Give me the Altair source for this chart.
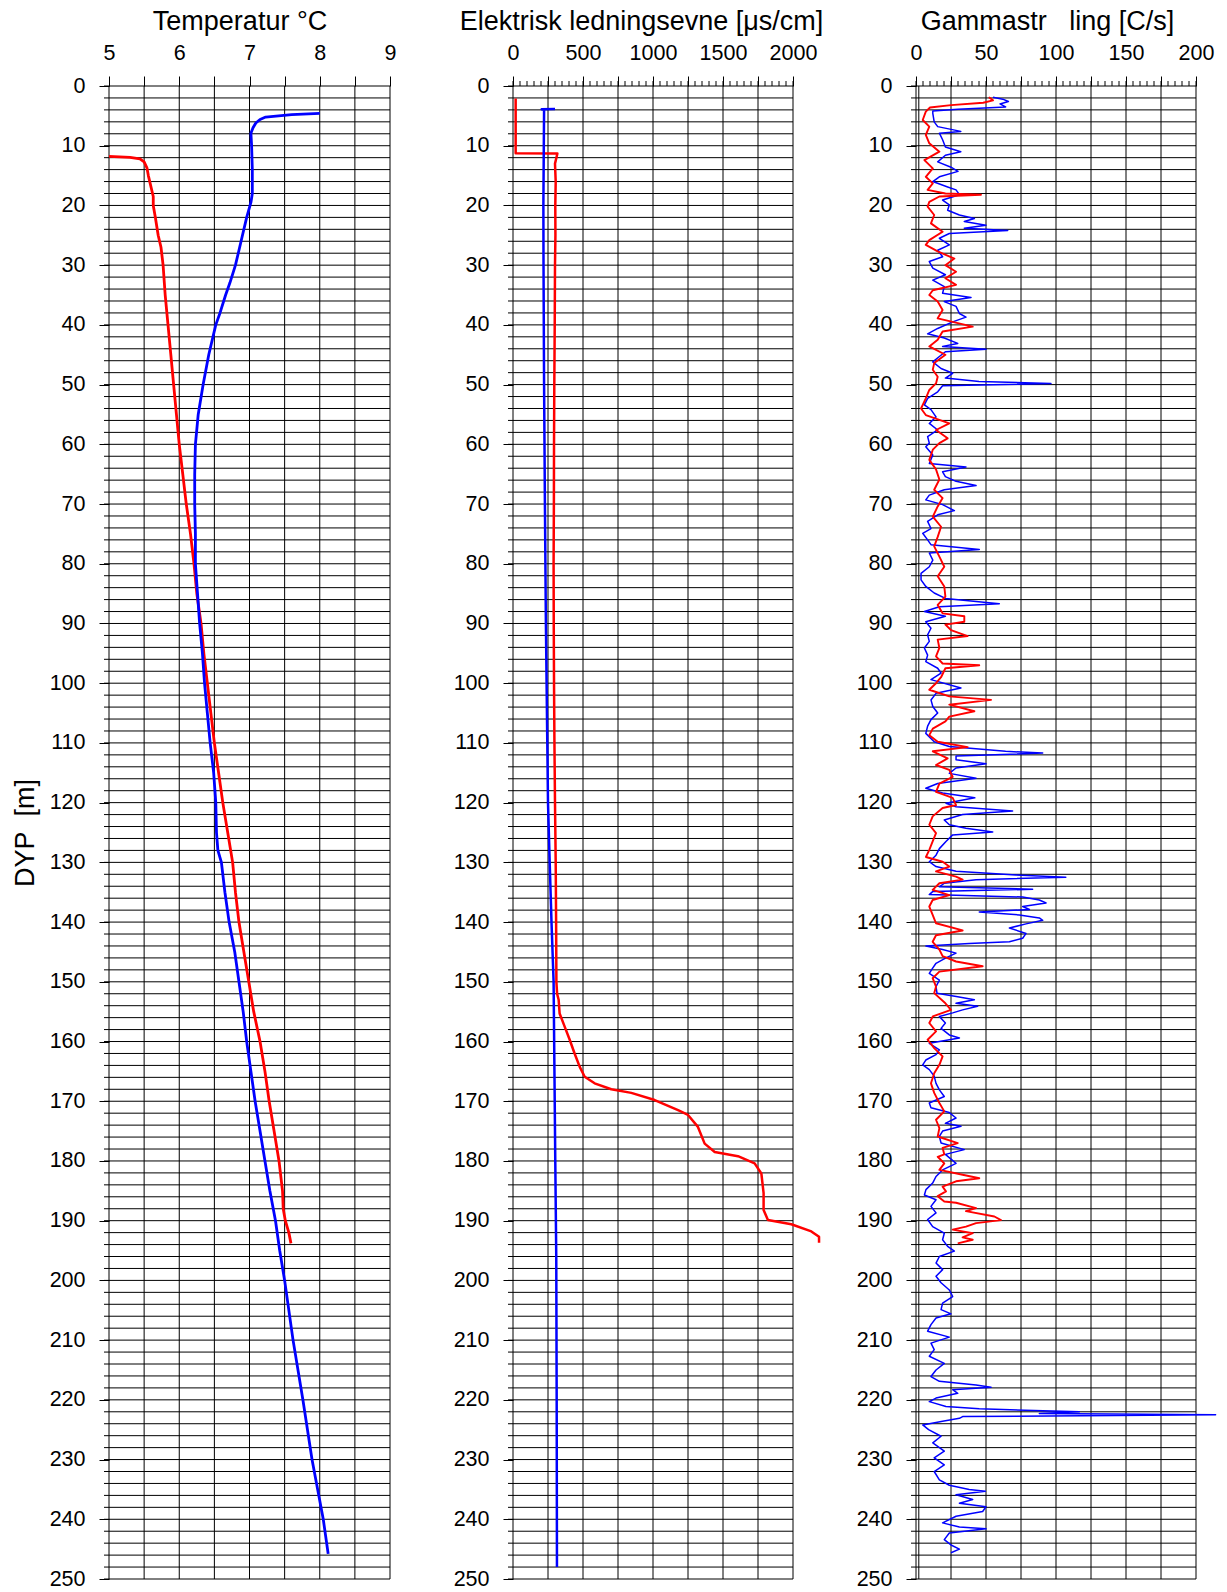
import altair as alt
import pandas as pd

FONT = "Liberation Sans"
H = 1493

# ---------------- Temperatur (°C) ----------------
temp_red_depth = [11.8, 11.95, 12.2, 12.7, 13.7, 15, 18.5, 20, 22, 25, 27, 30, 35, 40, 45, 50,
                  55, 60, 65, 70, 75, 80, 85, 90, 95, 100, 105, 110, 115, 120, 125, 130, 135,
                  140, 145, 150, 155, 160, 165, 170, 175, 180, 185, 188, 190, 192, 193.8]
temp_red_val = [5.0, 5.3, 5.44, 5.5, 5.54, 5.56, 5.63, 5.63, 5.66, 5.7, 5.74, 5.77, 5.8, 5.84,
                5.88, 5.92, 5.96, 6.0, 6.05, 6.1, 6.16, 6.21, 6.25, 6.31, 6.35, 6.4, 6.45, 6.5,
                6.56, 6.62, 6.69, 6.76, 6.8, 6.85, 6.92, 6.99, 7.06, 7.15, 7.22, 7.28, 7.35,
                7.42, 7.47, 7.48, 7.51, 7.56, 7.59]

temp_blue_depth = [4.6, 4.8, 5.2, 5.6, 6.2, 7.0, 7.9, 10, 14, 18, 19.5, 22, 25, 28, 30, 33, 35,
                   38, 40, 45, 50, 55, 60, 65, 70, 75, 80, 85, 90, 95, 100, 105, 110, 115, 120,
                   125, 128, 130, 135, 140, 145, 150, 155, 160, 165, 170, 175, 180, 185, 190,
                   195, 200, 210, 220, 230, 240, 245.8]
temp_blue_val = [8.0, 7.6, 7.23, 7.15, 7.09, 7.05, 7.02, 7.03, 7.04, 7.04, 7.02, 6.96, 6.9,
                 6.84, 6.8, 6.72, 6.66, 6.58, 6.52, 6.42, 6.34, 6.27, 6.23, 6.22, 6.22, 6.23,
                 6.23, 6.26, 6.29, 6.33, 6.36, 6.4, 6.44, 6.49, 6.52, 6.53, 6.55, 6.6, 6.65,
                 6.71, 6.79, 6.85, 6.91, 6.96, 7.02, 7.08, 7.15, 7.22, 7.29, 7.37, 7.43, 7.5,
                 7.62, 7.76, 7.89, 8.05, 8.12]

# ---------------- Elektrisk ledningsevne (µs/cm) ----------------
cond_red_depth = [2.1, 11.25, 11.3, 12, 13, 16, 20, 25, 30, 40, 50, 60, 70, 80, 90, 100, 110,
                  120, 130, 140, 150, 152, 153, 155.3, 157.5, 159.7, 162, 164.2, 165.9, 167,
                  168, 168.6, 169.8, 171.5, 172.3, 174.3, 177.1, 178.5, 179.2, 180.4, 182.1,
                  185.4, 188.2, 189.9, 190.6, 191.8, 192.7, 193.7]
cond_red_val = [19, 19, 317, 310, 300, 305, 302, 303, 300, 298, 295, 293, 292, 290, 291, 293,
                296, 300, 305, 308, 310, 315, 326, 333, 369, 405, 440, 476, 512, 583, 702,
                845, 1012, 1179, 1250, 1321, 1369, 1441, 1607, 1726, 1774, 1790, 1790, 1821,
                1988, 2131, 2186, 2186]

cond_blue_depth = [3.85, 3.9, 4.0, 10, 20, 30, 50, 70, 90, 100, 110, 120, 130, 140, 150, 160,
                   170, 180, 196, 220, 248]
cond_blue_val = [300, 205, 222, 220, 217, 218, 222, 228, 235, 240, 245, 250, 262, 275, 290,
                 294, 298, 302, 309, 312, 314]

# ---------------- Gammastråling (C/s) ----------------
gamma_blue = [
    (1.9, 55), (2.2, 62), (2.6, 66), (3.0, 60), (3.5, 64), (3.9, 30), (4.2, 12), (4.6, 12),
    (6.0, 13), (6.8, 15.5), (7.6, 32), (7.9, 16.7), (9.0, 19), (10.2, 21), (11.0, 32),
    (11.6, 21), (12.7, 15.5), (13.6, 25), (14.3, 30), (15.2, 16.7), (16.0, 12), (16.9, 22.6),
    (17.4, 28.6), (18.2, 31), (19.1, 19), (19.9, 23.8), (20.8, 22.6), (21.6, 31), (22.2, 41.7),
    (22.7, 34.5), (23.3, 50), (23.8, 34.5), (24.2, 65.5), (24.7, 23.8), (25.5, 16.7),
    (26.6, 23.8), (27.5, 15.5), (28.6, 19), (29.4, 9.5), (30.5, 12), (31.6, 21), (32.5, 12),
    (33.6, 20.2), (34.7, 19), (35.4, 39.3), (36.1, 20.2), (36.9, 28.6), (38.1, 31),
    (38.7, 35.7), (39.5, 26.2), (40.6, 15.5), (41.5, 8.3), (42.2, 20.2), (43.1, 29.8),
    (43.6, 19), (44.1, 50), (44.5, 21), (45.3, 16.7), (46.2, 12), (47.3, 17.9), (48.1, 26.2),
    (48.9, 21), (49.5, 45), (49.8, 96.4), (50.2, 19), (51.2, 15.5), (52.3, 8.3), (53.4, 6),
    (54.2, 10.7), (55.4, 14.3), (56.5, 9.5), (57.6, 15.5), (58.7, 8.3), (59.8, 9.5),
    (60.4, 7), (61.8, 12), (63.2, 9.5), (63.8, 35.7), (64.6, 19), (65.4, 21), (66.2, 28.6),
    (66.9, 42.9), (67.6, 20.2), (68.5, 9.5), (69.3, 7), (70.1, 19), (71.1, 27.4), (71.8, 15.5),
    (72.9, 8.3), (74.1, 10.7), (74.9, 4.8), (76.0, 8.3), (76.8, 10.7), (77.6, 45.2),
    (78.2, 9.5), (79.4, 12), (80.5, 9.5), (81.6, 3.6), (82.7, 3.6), (83.8, 7), (84.9, 13),
    (85.8, 21), (86.3, 42.9), (86.7, 59.5), (87.2, 16.7), (88.0, 6), (88.8, 21), (89.7, 7),
    (90.8, 10.7), (91.9, 8.3), (93.0, 9.5), (94.1, 6), (95.3, 8.3), (96.4, 7), (97.5, 15.5),
    (98.3, 17.9), (99.4, 10.7), (100.8, 32.1), (101.7, 14.3), (102.8, 10.7), (103.9, 12),
    (105.0, 15.5), (106.1, 10.7), (107.2, 8.3), (108.4, 7), (109.8, 13), (110.6, 23.8),
    (111.4, 64), (111.7, 90.5), (112.2, 28.6), (112.8, 28.6), (113.5, 50), (114.2, 28.6),
    (115.1, 23.8), (115.9, 42.9), (116.8, 15.5), (117.6, 7), (118.4, 19), (119.2, 42),
    (120.1, 21.4), (120.7, 28.6), (121.4, 69), (122.0, 33.3), (122.9, 20.2), (123.7, 23.8),
    (124.3, 35.7), (124.9, 54.8), (125.4, 26.2), (126.5, 21.4), (127.7, 16.7), (128.8, 14.3),
    (129.9, 9.5), (130.7, 14.3), (131.5, 28.6), (132.1, 71.4), (132.5, 107), (132.9, 42.9),
    (133.5, 20.2), (134.1, 16.7), (134.5, 83.3), (134.9, 11.9), (135.4, 9.5), (135.8, 76.2),
    (136.3, 88.1), (136.8, 92.9), (137.4, 76.2), (137.9, 81), (138.3, 45.2), (138.8, 73.8),
    (139.3, 88.1), (139.7, 90.5), (140.3, 78.6), (141.0, 66.7), (141.9, 78.6), (142.7, 76.2),
    (143.3, 66.7), (143.6, 38), (144.0, 7.1), (144.6, 19), (145.2, 28.6), (146.0, 21.4),
    (146.9, 14.3), (147.7, 11.9), (148.6, 9.5), (149.7, 16.7), (150.8, 14.3), (151.9, 15),
    (152.5, 29.8), (153.0, 41.7), (153.6, 28.6), (154.1, 44), (154.7, 33.3), (155.2, 26.2),
    (155.8, 16.7), (156.9, 21), (157.8, 17.9), (158.9, 23.8), (159.4, 31), (160.3, 9.5),
    (161.4, 16.7), (162.2, 14.3), (163.1, 7), (163.9, 4.8), (164.7, 9.5), (165.8, 13),
    (167.0, 14.3), (168.1, 16.7), (169.2, 20.2), (170.3, 9.5), (171.1, 10.7), (171.9, 23.8),
    (172.8, 28.6), (173.7, 21), (174.2, 32.1), (175.0, 19), (175.9, 16.7), (177.0, 17.9),
    (178.1, 34.5), (178.9, 21), (180.4, 28.6), (181.5, 19), (182.6, 14.3), (183.7, 11.9),
    (184.8, 7.1), (185.7, 6), (186.5, 14.3), (187.6, 10.7), (188.7, 14.3), (189.8, 8.3),
    (191.0, 11.9), (192.1, 20.2), (193.2, 19), (194.3, 22.6), (195.1, 27.4), (196.0, 16.7),
    (197.1, 14.3), (198.2, 19), (199.3, 14.3), (200.4, 17.9), (201.6, 23.8), (202.7, 26.2),
    (203.8, 19), (204.9, 17.9), (205.6, 25), (206.3, 14.3), (207.4, 10.7), (208.5, 8.3),
    (209.5, 23.8), (210.5, 10.7), (211.6, 13), (212.7, 9.5), (213.9, 20.2), (215.0, 14.3),
    (216.1, 10.7), (216.9, 16.7), (217.5, 42.9), (217.9, 53.6), (218.3, 26.2), (218.9, 29.8),
    (219.7, 14.3), (220.3, 9.5), (221.1, 21.4), (221.5, 45.2), (222.0, 116.7), (222.3, 88.1),
    (222.5, 214), (222.8, 33.3), (223.1, 31), (223.6, 19), (224.2, 4.8), (225.0, 9),
    (226.1, 17.9), (227.2, 12), (228.6, 20.2), (229.7, 13), (230.9, 20.2), (232.0, 13),
    (233.4, 16.7), (234.3, 23.8), (235.0, 38), (235.3, 49.5), (235.9, 28.6), (236.7, 40.5),
    (237.3, 31), (237.9, 50), (238.7, 47.6), (239.5, 28.6), (240.6, 19), (241.3, 31),
    (241.6, 50), (242.3, 23.8), (243.4, 20.2), (244.3, 25), (245.0, 31), (245.6, 25),
]
gamma_red = [
    (1.9, 52), (2.4, 55), (2.8, 48), (3.2, 25), (3.6, 10), (4.3, 7), (5.7, 4.8), (6.8, 9.5),
    (8.2, 7), (9.6, 9.5), (11.0, 16.7), (12.4, 6), (13.8, 12), (15.2, 7), (16.3, 12),
    (17.4, 8.3), (18.0, 21), (18.2, 46.4), (18.5, 16.7), (19.4, 9.5), (20.2, 8.3), (21.6, 13),
    (23.0, 10.7), (24.4, 19), (25.8, 9.5), (26.6, 7), (27.7, 15.5), (28.9, 27.4), (30.0, 21),
    (31.1, 28.6), (32.2, 21), (33.3, 28.6), (34.2, 12), (35.0, 9.5), (36.1, 15.5), (37.5, 19),
    (38.9, 15.5), (40.3, 40.5), (41.1, 19), (42.5, 15.5), (43.6, 9.5), (45.0, 21), (46.4, 13),
    (47.5, 12), (48.7, 15.5), (49.8, 14.3), (50.9, 9.5), (52.3, 7), (54.0, 3.6), (55.1, 7),
    (56.5, 23.8), (57.6, 14.3), (59.0, 22.6), (59.8, 16.7), (60.9, 12), (62.6, 9.5),
    (64.2, 14.3), (65.9, 16.7), (67.6, 13), (69.0, 19), (70.4, 15.5), (72.1, 12), (73.8, 17.9),
    (75.5, 15.5), (77.1, 13), (78.8, 16.7), (80.5, 20.2), (82.1, 15.5), (83.8, 20.2),
    (85.5, 21), (86.9, 15.5), (88.3, 19), (88.8, 34.5), (89.7, 34.5), (90.2, 21), (91.1, 25),
    (92.1, 36.9), (92.7, 15.5), (94.1, 16.7), (95.5, 14.3), (96.7, 19), (97.0, 45.2),
    (97.5, 21), (99.0, 17.9), (100.0, 14.3), (101.1, 9.5), (102.2, 23.8), (102.8, 53.6),
    (103.6, 23.8), (104.7, 41.7), (105.6, 23.8), (106.4, 21), (107.6, 12), (108.7, 9.5),
    (109.8, 15.5), (110.7, 36.9), (111.4, 12), (112.6, 22.6), (113.7, 14.3), (114.5, 23.8),
    (115.7, 26.2), (116.8, 16.7), (118.2, 14.3), (119.2, 26.2), (120.4, 28.6), (120.9, 19),
    (122.3, 11.9), (123.7, 9.5), (125.1, 14.3), (126.5, 11.9), (127.9, 9.5), (129.1, 7.1),
    (129.9, 19), (130.7, 23.8), (131.5, 14.3), (132.4, 28.6), (132.9, 33.3), (133.5, 16.7),
    (134.6, 11.9), (135.5, 23.8), (136.3, 11.9), (137.4, 9.5), (138.8, 11.9), (140.2, 14.3),
    (141.4, 33.3), (142.2, 14.3), (143.3, 11.9), (144.6, 16.7), (145.7, 19), (146.6, 28.6),
    (147.4, 47.6), (148.3, 16.7), (149.4, 11.9), (150.8, 14.3), (151.9, 13), (153.6, 21),
    (154.7, 25), (155.8, 12), (156.9, 9.5), (158.3, 14.3), (159.7, 8.3), (161.1, 13),
    (162.5, 19), (163.9, 16.7), (165.3, 13), (167.0, 10.7), (168.6, 13), (170.3, 16.7),
    (171.7, 20.2), (173.1, 14.3), (174.5, 16.7), (175.9, 15.5), (177.0, 29.8), (177.8, 19),
    (178.9, 20.2), (179.3, 15.5), (180.4, 20.2), (181.5, 16.7), (182.3, 33.3), (182.9, 45.2),
    (183.4, 28.6), (184.3, 19), (185.1, 21.4), (185.9, 15.5), (186.8, 20.2), (187.0, 28.6),
    (187.9, 42.9), (188.4, 35.7), (189.3, 56), (189.9, 60.7), (190.4, 42.9), (191.0, 35.7),
    (191.5, 26.2), (192.1, 40.5), (192.8, 33.3), (193.2, 40.5), (193.8, 29.8),
]

# ---------------- axes / grid values ----------------
temp_grid = [5 + 0.5 * i for i in range(9)]
cond_grid = list(range(0, 2001, 250))
cond_minor = list(range(0, 2001, 50))
gamma_grid = list(range(0, 201, 25))
gamma_minor = list(range(0, 201, 5))
gamma_inner_edge = [2]
depth_grid = list(range(0, 251, 2))
depth_labels = list(range(0, 251, 10))

RED, BLUE = "#ff0000", "#0000ff"
NBSP = "\u00a0"
depth_scale = alt.Scale(domain=[0, 250], reverse=True, nice=False, zero=False)


def frame(depths, values):
    return pd.DataFrame({"depth": depths, "value": values})


def pairs(rows):
    return frame([r[0] for r in rows], [r[1] for r in rows])


def panel(title, width, title_shift, domain, grid_vals, label_step, minor_vals, lines,
          y_title=None, extra_edges=None):
    xs = alt.Scale(domain=domain, nice=False, zero=False)
    x_axis = alt.Axis(
        orient="top", values=grid_vals, title=title, titleX=width / 2 - title_shift,
        labelExpr=(f"abs(datum.value / {label_step} - round(datum.value / {label_step})) < 1e-6"
                   " ? format(datum.value, 'd') : ''"),
        tickSize=10, tickColor="black", tickWidth=1, grid=False, domain=False,
        labelPadding=12, titlePadding=7, labelFlush=False, labelOverlap=False,
    )
    y_kwargs = dict(values=depth_labels, tickSize=10, tickColor="black", tickWidth=1,
                    grid=False, domain=False, labelPadding=14, titlePadding=10,
                    format="d", labelOverlap=False, labelFlush=False)
    y_kwargs["title"] = y_title if y_title else None
    y_axis = alt.Axis(**y_kwargs)

    def X(field):
        return alt.X(field, scale=xs, axis=x_axis)

    def Y(field):
        return alt.Y(field, scale=depth_scale, axis=y_axis)

    vgrid = alt.Chart(pd.DataFrame({"value": grid_vals})).mark_rule(
        color="black", strokeWidth=1).encode(x=X("value:Q"), y=alt.value(0), y2=alt.value(H))
    hgrid = alt.Chart(pd.DataFrame({"depth": depth_grid})).mark_rule(
        color="black", strokeWidth=1).encode(y=Y("depth:Q"), x=alt.value(0), x2=alt.value(width))
    yminor = alt.Chart(pd.DataFrame({"depth": depth_grid})).mark_rule(
        color="black", strokeWidth=1).encode(y=Y("depth:Q"), x=alt.value(-5), x2=alt.value(0))
    layers = [vgrid, hgrid, yminor]
    if minor_vals:
        layers.append(alt.Chart(pd.DataFrame({"value": minor_vals})).mark_rule(
            color="black", strokeWidth=1).encode(x=X("value:Q"), y=alt.value(-5), y2=alt.value(0)))
    if extra_edges:
        layers.append(alt.Chart(pd.DataFrame({"value": extra_edges})).mark_rule(
            color="black", strokeWidth=1).encode(x=X("value:Q"), y=alt.value(0), y2=alt.value(H)))
    for df, color, sw in lines:
        layers.append(alt.Chart(df).mark_line(color=color, strokeWidth=sw,
                                              strokeJoin="round").encode(
            x=X("value:Q"), y=Y("depth:Q"), order="depth:Q"))
    return alt.layer(*layers).properties(width=width, height=H)


p_temp = panel("Temperatur °C", 281, 10, [5, 9], temp_grid, 1, None,
               [(frame(temp_red_depth, temp_red_val), RED, 2.8),
                (frame(temp_blue_depth, temp_blue_val), BLUE, 2.8)],
               y_title=f"DYP{NBSP}{NBSP}[m]")
p_cond = panel("Elektrisk ledningsevne [μs/cm]", 280, 12, [0, 2000], cond_grid, 500, cond_minor,
               [(frame(cond_red_depth, cond_red_val), RED, 2.5),
                (frame(cond_blue_depth, cond_blue_val), BLUE, 2.5)])
p_gamma = panel(f"Gammastr{NBSP * 3}ling [C/s]", 280, 9, [0, 200], gamma_grid, 50, gamma_minor,
                [(pairs(gamma_blue), BLUE, 1.5),
                 (pairs(gamma_red), RED, 1.9)],
                extra_edges=gamma_inner_edge)

chart = alt.hconcat(p_temp, p_cond, p_gamma, spacing=123, bounds="flush").properties(
    padding={"left": 11, "top": 7, "right": 0, "bottom": 0}, background="white"
).configure_axis(
    labelFont=FONT, labelFontSize=21.5, labelColor="black",
    titleFont=FONT, titleFontSize=27, titleColor="black", titleFontWeight="normal",
).configure_view(stroke=None)

chart.save("out.html", embed_options={"renderer": "svg", "actions": False})
